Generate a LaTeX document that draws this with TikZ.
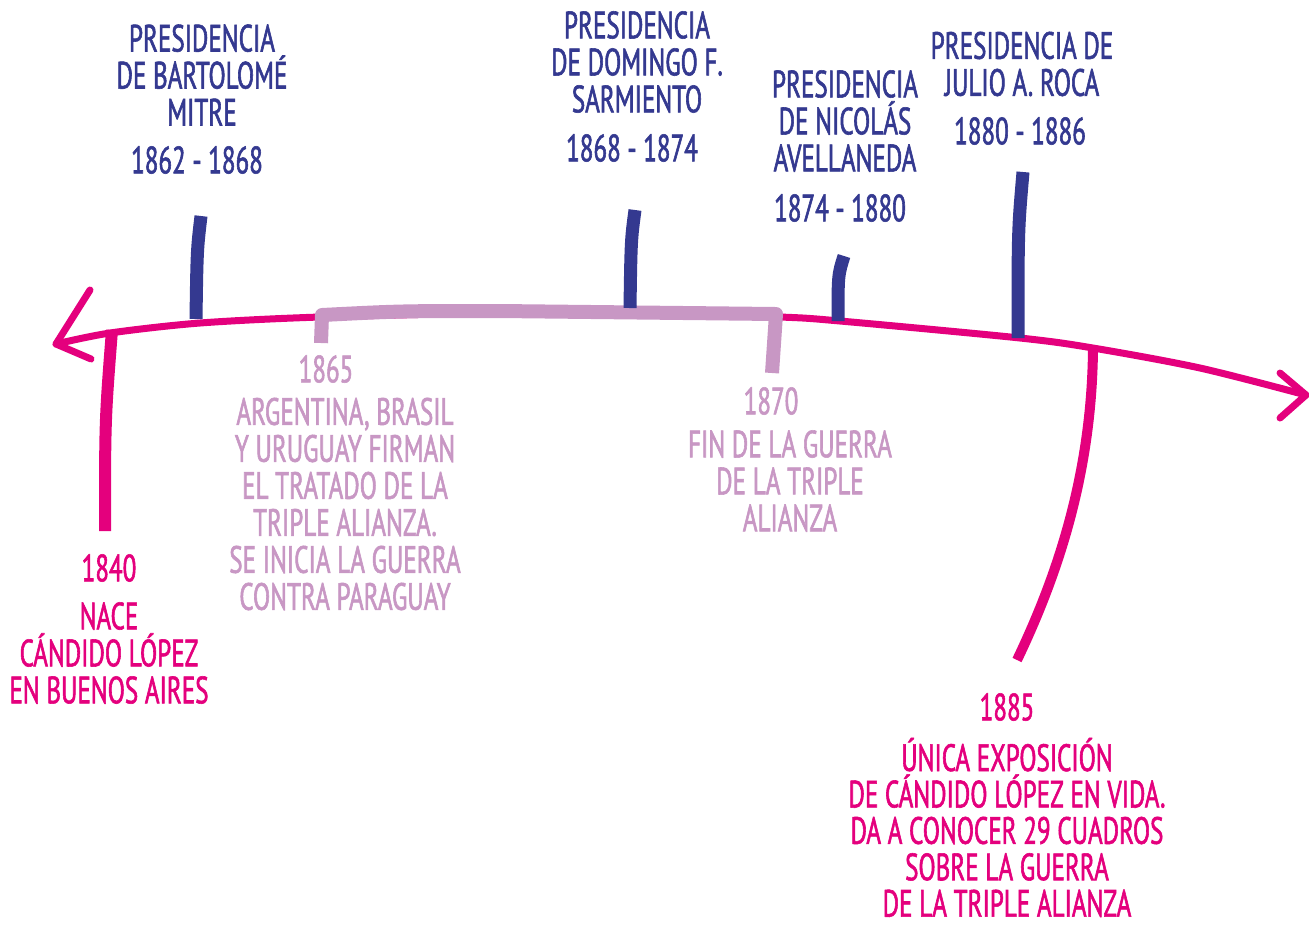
\documentclass[tikz,border=0pt]{standalone}
\usepackage{fontspec}
\setmainfont{PT Sans}[FakeStretch=0.66, FakeBold=1.5]
\definecolor{navy}{RGB}{52,57,144}
\definecolor{pinkc}{RGB}{228,0,125}
\definecolor{lilac}{RGB}{200,151,196}
\tikzset{
  lbl/.style={align=center, inner sep=0pt, font=\fontsize{19}{18.5}\selectfont},
  navytxt/.style={lbl, text=navy},
  pinktxt/.style={lbl, text=pinkc},
  liltxt/.style={lbl, text=lilac},
  navytick/.style={draw=navy, line width=6.5pt},
  pinktick/.style={draw=pinkc, line width=6pt},
  mainline/.style={draw=pinkc, line width=3.5pt, line cap=round, line join=round},
  bracketline/.style={draw=lilac, line width=7pt, line join=round}
}
\begin{document}
\begin{tikzpicture}[x=0.5pt,y=-0.5pt]
\useasboundingbox (0,0) rectangle (1309,928);
% main timeline
\coordinate (L) at (56,344);
\coordinate (R) at (1306,395);
\draw[mainline] plot[smooth] coordinates {(56,344) (110,333) (200,323) (320,317) (500,313) (640,313) (780,317) (840,321) (1020,338) (1093,348) (1200,368) (1306,395)};
\coordinate (Lu) at (90,290);
\coordinate (Ld) at (91,359);
\coordinate (Ru) at (1280,373);
\coordinate (Rd) at (1280,418);
\draw[mainline] (Lu) -- (L) -- (Ld);
\draw[mainline] (Ru) -- (R) -- (Rd);
% lilac bracket
\coordinate (b1) at (321,343);
\coordinate (b2) at (322,315);
\coordinate (b3) at (500,311);
\coordinate (b4) at (776,314);
\coordinate (b5) at (772,373);
\draw[bracketline] (b1) -- (b2) .. controls (400,311) .. (b3) -- (b4) -- (b5);
% navy ticks
\coordinate (m1) at (201,216); \coordinate (m2) at (196,319);
\coordinate (s1) at (635,210); \coordinate (s2) at (630,308);
\coordinate (a1) at (844,256); \coordinate (a2) at (838,321);
\coordinate (r1) at (1023,172); \coordinate (r2) at (1018,338);
\draw[navytick] (m1) .. controls (197,250) .. (m2);
\draw[navytick] (s1) .. controls (631,240) .. (s2);
\draw[navytick] (a1) .. controls (838,275) .. (a2);
\draw[navytick] (r1) .. controls (1018,230) .. (r2);
% pink ticks
\coordinate (p1) at (112,330); \coordinate (p2) at (105,531);
\coordinate (q1) at (1093,348); \coordinate (q2) at (1017,660);
\draw[pinktick] (p1) .. controls (105,420) .. (p2);
\draw[pinktick, line width=5pt] (q1) .. controls (1092,460) and (1065,560) .. (q2);
% navy texts
\node[navytxt] (t1) at (202,75) {PRESIDENCIA\\DE BARTOLOMÉ\\MITRE};
\node[navytxt] (y1) at (197,160) {1862 - 1868};
\node[navytxt] (t2) at (637,62) {PRESIDENCIA\\DE DOMINGO F.\\SARMIENTO};
\node[navytxt] (y2) at (632,148) {1868 - 1874};
\node[navytxt] (t3) at (845,121) {PRESIDENCIA\\DE NICOLÁS\\AVELLANEDA};
\node[navytxt] (y3) at (840,208) {1874 - 1880};
\node[navytxt] (t4) at (1022,64) {PRESIDENCIA DE\\JULIO A. ROCA};
\node[navytxt] (y4) at (1020,131) {1880 - 1886};
% lilac texts
\node[liltxt] (y5) at (326,369) {1865};
\node[liltxt] (t5) at (345,504) {ARGENTINA, BRASIL\\Y URUGUAY FIRMAN\\EL TRATADO DE LA\\TRIPLE ALIANZA.\\SE INICIA LA GUERRA\\CONTRA PARAGUAY};
\node[liltxt] (y6) at (771,401) {1870};
\node[liltxt] (t6) at (790,481) {FIN DE LA GUERRA\\DE LA TRIPLE\\ALIANZA};
% pink texts
\node[pinktxt] (y7) at (109,568) {1840};
\node[pinktxt] (t7) at (109,653) {NACE\\CÁNDIDO LÓPEZ\\EN BUENOS AIRES};
\node[pinktxt] (y8) at (1007,707) {1885};
\node[pinktxt, font=\fontsize{19}{18.2}\selectfont, text depth=0pt, anchor=south] (t8) at (1007,917) {ÚNICA EXPOSICIÓN\\DE CÁNDIDO LÓPEZ EN VIDA.\\DA A CONOCER 29 CUADROS\\SOBRE LA GUERRA\\DE LA TRIPLE ALIANZA};
\end{tikzpicture}
\end{document}
